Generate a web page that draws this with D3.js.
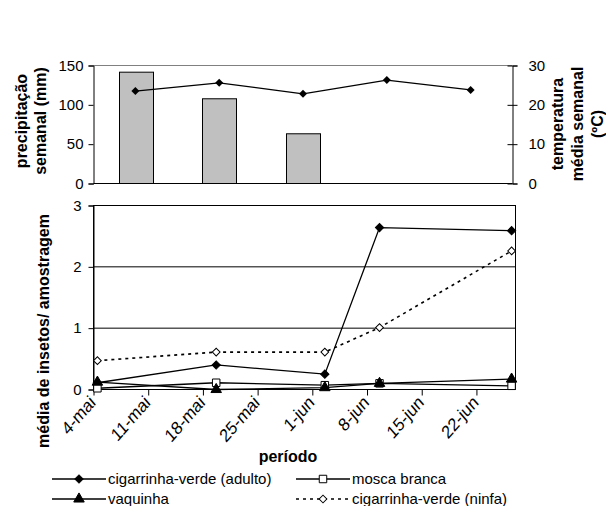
<!DOCTYPE html>
<html><head><meta charset="utf-8">
<script src="https://cdn.jsdelivr.net/npm/d3@7"></script>
<style>
body{margin:0;background:#fff;}
svg{display:block;font-family:"Liberation Sans",Arial,sans-serif;}
</style></head><body>
<svg id="c" width="606" height="506"></svg>
<script>
// ---- data ----
const periods = ["s1","s2","s3","s4","s5"];           // weekly periods (top chart)
const precipitation = [141.5, 107.7, 63.2, null, null]; // mm
const temperature = [23.5, 25.6, 22.8, 26.3, 23.8];     // ºC
const sampleDay = [0.5, 15.7, 29.6, 36.6, 53.5];        // days after 4-mai
const adulto = [0.11, 0.40, 0.25, 2.64, 2.59];
const mosca = [0.02, 0.11, 0.07, 0.10, 0.06];
const vaquinha = [0.12, 0.00, 0.03, 0.10, 0.17];
const ninfa = [0.47, 0.61, 0.61, 1.01, 2.26];
const tickLabels = ["4-mai","11-mai","18-mai","25-mai","1-jun","8-jun","15-jun","22-jun"];
const tickDay = [0, 7, 14, 21, 28, 35, 42, 49];
const topLeftTicks = [0, 50, 100, 150];
const topRightTicks = [0, 10, 20, 30];
const bottomTicks = [0, 1, 2, 3];

const svg = d3.select("#c");
const FS = 15;

// ---- top chart ----
const L = 93.5, R1 = 512.5, T1 = 65.5, B1 = 183.5;
const xTop = d3.scaleBand().domain(periods).range([L, R1]).paddingInner(0.6).paddingOuter(0.3);
const yPrec = d3.scaleLinear().domain([0,150]).range([B1, T1]);
const yTemp = d3.scaleLinear().domain([0,30]).range([B1, T1]);

svg.append("line").attr("x1",L).attr("x2",R1).attr("y1",yPrec(150)).attr("y2",yPrec(150))
  .attr("stroke","#808080").attr("stroke-width",1);

const gTop = svg.append("g");
gTop.selectAll("rect.bar").data(periods.map((p,i)=>({p,v:precipitation[i]})).filter(d=>d.v!=null))
  .join("rect").attr("class","bar")
  .attr("x",d=>Math.round(xTop(d.p))+0.5).attr("width",Math.round(xTop.bandwidth()))
  .attr("y",d=>yPrec(d.v)).attr("height",d=>B1-yPrec(d.v))
  .attr("fill","#c0c0c0").attr("stroke","#000").attr("stroke-width",1);

const axL1 = svg.append("g").attr("transform",`translate(${L},0)`)
  .call(d3.axisLeft(yPrec).tickValues(topLeftTicks).tickSize(5).tickPadding(5));
const axR1 = svg.append("g").attr("transform",`translate(${R1},0)`)
  .call(d3.axisRight(yTemp).tickValues(topRightTicks).tickSize(5).tickPadding(11));
axR1.selectAll(".tick line").attr("x1",-5);
svg.append("line").attr("x1",L).attr("x2",R1).attr("y1",B1).attr("y2",B1).attr("stroke","#000");

const cx = i => xTop(periods[i]) + xTop.bandwidth()/2;
const tempLine = d3.line().x((d,i)=>cx(i)).y(d=>yTemp(d));
svg.append("path").attr("d",tempLine(temperature)).attr("fill","none").attr("stroke","#000").attr("stroke-width",1.2);
svg.append("g").selectAll("path").data(temperature).join("path")
  .attr("d",d3.symbol().type(d3.symbolSquare).size(32)())
  .attr("transform",(d,i)=>`translate(${cx(i)},${yTemp(d)}) rotate(45)`)
  .attr("fill","#000");

// ---- bottom chart ----
const R2 = 515.5, T2 = 205.5, B2 = 389.5;
const xB = d3.scaleLinear().domain([0,54]).range([L, R2]);
const yB = d3.scaleLinear().domain([0,3]).range([B2, T2]);

svg.append("g").selectAll("line").data([1,2]).join("line")
  .attr("x1",L).attr("x2",R2).attr("y1",d=>yB(d)).attr("y2",d=>yB(d)).attr("stroke","#000");
svg.append("rect").attr("x",L).attr("y",T2).attr("width",R2-L).attr("height",B2-T2)
  .attr("fill","none").attr("stroke","#000");

const axL2 = svg.append("g").attr("transform",`translate(${L},0)`)
  .call(d3.axisLeft(yB).tickValues(bottomTicks).tickFormat(d3.format("d")).tickSize(5).tickPadding(7));
const axB2 = svg.append("g").attr("transform",`translate(0,${B2})`)
  .call(d3.axisBottom(xB).tickValues(tickDay).tickSize(6).tickFormat(""));
svg.append("g").selectAll("text").data(tickDay).join("text")
  .attr("transform",(d)=>`translate(${xB(d)+3},${B2+14}) scale(1,1.15) rotate(-45)`)
  .attr("text-anchor","end").attr("font-size",16).attr("fill","#000")
  .text((d,i)=>tickLabels[i]);

[axL1,axR1,axL2,axB2].forEach(a=>{
  a.selectAll(".domain").attr("stroke","#000");
  a.selectAll(".tick line").attr("stroke","#000");
  a.selectAll("text").attr("font-size",FS).attr("font-family","Liberation Sans, Arial, sans-serif").attr("fill","#000");
});
axB2.select(".domain").remove();

const series = [
  {name:"cigarrinha-verde (adulto)", vals:adulto, dash:null, sym:"diamond", fill:"#000"},
  {name:"mosca branca", vals:mosca, dash:null, sym:"square", fill:"#fff"},
  {name:"vaquinha", vals:vaquinha, dash:null, sym:"triangle", fill:"#000"},
  {name:"cigarrinha-verde (ninfa)", vals:ninfa, dash:"3,4", sym:"diamond", fill:"#fff"}
];
function marker(sel, sym, fill){
  if(sym==="diamond"){
    sel.attr("d",d3.symbol().type(d3.symbolSquare).size(fill==="#000"?34:30)());
  } else if(sym==="square"){
    sel.attr("d",d3.symbol().type(d3.symbolSquare).size(56)());
  } else {
    sel.attr("d",d3.symbol().type(d3.symbolTriangle).size(48)());
  }
  sel.attr("fill",fill).attr("stroke","#000").attr("stroke-width",1);
}
const lineB = d3.line().x((d,i)=>xB(sampleDay[i])).y(d=>yB(d));
series.forEach(s=>{
  svg.append("path").attr("d",lineB(s.vals)).attr("fill","none").attr("stroke","#000")
    .attr("stroke-width",s.dash?1.6:1.3).attr("stroke-dasharray",s.dash);
});
series.forEach(s=>{
  const m = svg.append("g").selectAll("path").data(s.vals).join("path");
  marker(m, s.sym, s.fill);
  m.attr("transform",(d,i)=>`translate(${xB(sampleDay[i])},${yB(d)})`+(s.sym==="diamond"?" rotate(45)":""));
});

// ---- axis titles ----
function vtext(x, y, lines, lh){
  const t = svg.append("text").attr("transform",`translate(${x},${y}) rotate(-90)`)
    .attr("text-anchor","middle").attr("font-weight","bold").attr("font-size",16).attr("fill","#000");
  lines.forEach((ln,i)=>t.append("tspan").attr("x",0).attr("y",(i-(lines.length-1)/2)*lh).attr("dy","0.35em").text(ln));
}
vtext(31, 121, ["precipitação","semanal (mm)"], 19.5);
vtext(577, 124, ["temperatura","média semanal","(ºC)"], 20);
vtext(43, 331, ["média de insetos/ amostragem"], 20);
svg.append("text").attr("x",288).attr("y",462).attr("text-anchor","middle")
  .attr("font-weight","bold").attr("font-size",16).text("período");

// ---- legend ----
const legPos = [[52,479],[296,479],[52,499],[296,499]];
series.forEach((s,k)=>{
  const [x,y] = legPos[k];
  const g = svg.append("g").attr("transform",`translate(${x},${y})`);
  g.append("line").attr("x1",0).attr("x2",54).attr("y1",0).attr("y2",0).attr("stroke","#000")
    .attr("stroke-width",s.dash?1.6:1.3).attr("stroke-dasharray",s.dash);
  const m = g.append("path");
  marker(m, s.sym, s.fill);
  m.attr("transform","translate(27,0)"+(s.sym==="diamond"?" rotate(45)":""));
  g.append("text").attr("x",56).attr("y",0).attr("dy","0.35em").attr("font-size",FS).attr("fill","#000").text(s.name);
});
</script>
</body></html>
